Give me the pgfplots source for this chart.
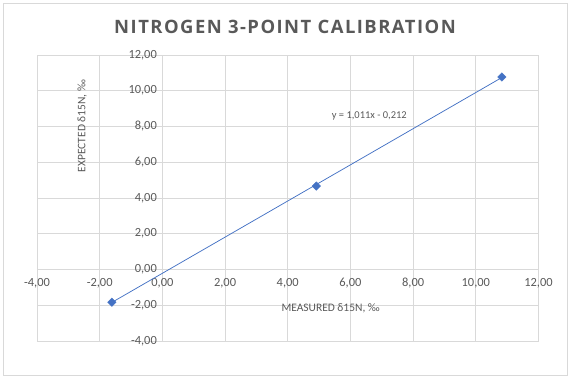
\documentclass[border=0pt]{standalone}
\usepackage{fontspec}
\setmainfont{Carlito}
\usepackage{pgfplots}
\pgfplotsset{compat=1.18}
\definecolor{txt}{HTML}{595959}
\definecolor{grd}{HTML}{D9D9D9}
\definecolor{ser}{HTML}{4472C4}
\newfontfamily\titlefont[LetterSpace=8]{Open Sans}
\begin{document}
\begin{tikzpicture}[x=1bp,y=1bp]
\useasboundingbox (0,0) rectangle (573,382);
\draw[grd, line width=0.75bp] (3.5,7) rectangle (567,379);
\node[txt, font=\titlefont\fontsize{18.5}{22}\selectfont\bfseries] at (285,355) {NITROGEN 3-POINT CALIBRATION};
\begin{axis}[
 at={(37bp,41bp)}, anchor=south west, scale only axis, width=501.5bp, height=286bp,
 xmin=-4, xmax=12, ymin=-4, ymax=12,
 xtick={-4,-2,...,12}, ytick={-4,-2,...,12},
 axis lines=middle, axis line style={grd, -, line width=0.75bp},
 grid=major, grid style={grd, line width=0.75bp},
 major tick length=0,
 hide obscured x ticks=false, hide obscured y ticks=false,
 tick label style={txt, font=\fontsize{12.5}{14}\selectfont},
 yticklabel style={xshift=-2bp},
 xticklabel style={yshift=-5bp},
 clip=false,
 /pgf/number format/.cd, fixed, fixed zerofill, precision=2, use comma, assume math mode=true,
]
\addplot[ser, line width=0.75bp] coordinates {(-1.61,-1.84) (10.83,10.74)};
\addplot[only marks, mark=square*, mark size=3bp, ser, mark options={fill=ser, rotate=45}] coordinates {(-1.61,-1.83) (4.91,4.67) (10.83,10.77)};
\node[txt, font=\fontsize{11.5}{14}\selectfont] at (axis cs:5.37,-2.15) {MEASURED δ15N, ‰};
\node[txt, font=\fontsize{11.5}{14}\selectfont, rotate=90] at (axis cs:-2.56,8.03) {EXPECTED δ15N, ‰};
\node[txt, font=\fontsize{10.5}{13}\selectfont] at (axis cs:6.6,8.6) {y = 1,011x - 0,212};
\end{axis}
\end{tikzpicture}
\end{document}
